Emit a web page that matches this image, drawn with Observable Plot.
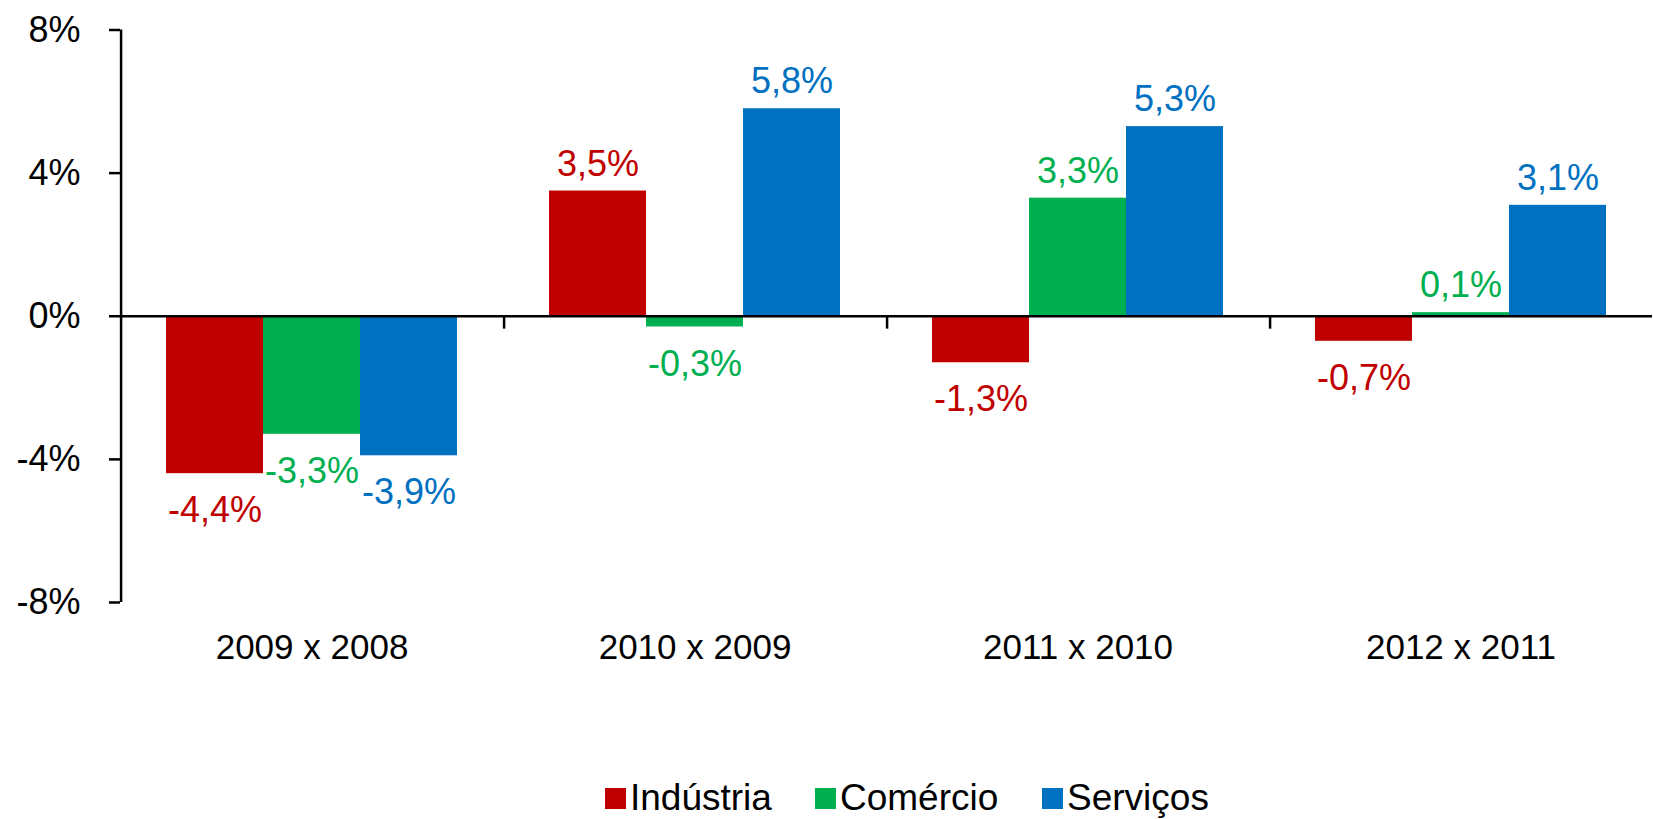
<!DOCTYPE html>
<html>
<head>
<meta charset="utf-8">
<script src="https://cdn.jsdelivr.net/npm/d3@7"></script>
<script src="https://cdn.jsdelivr.net/npm/@observablehq/plot@0.6"></script>
<style>
  body { margin: 0; background: #fff; font-family: "Liberation Sans", Arial, sans-serif; }
  #chart svg { display: block; }
  #legend { position: relative; height: 119px; width: 1653px; }
  .item { position: absolute; top: 79px; display: flex; align-items: center; height: 38px; font-size: 37px; color: #000; }
  .sw { width: 21px; height: 21px; margin-right: 4px; }
</style>
</head>
<body>
<div id="chart"></div>
<div id="legend"></div>
<script>
const categories = ["2009 x 2008", "2010 x 2009", "2011 x 2010", "2012 x 2011"];
const series = ["Indústria", "Comércio", "Serviços"];
const industria = [-4.4, 3.5, -1.3, -0.7];
const comercio = [-3.3, -0.3, 3.3, 0.1];
const servicos = [-3.9, 5.8, 5.3, 3.1];
const colors = ["#C00000", "#00B050", "#0070C0"];
const yTicks = [-8, -4, 0, 4, 8];

const seriesValues = [industria, comercio, servicos];
const data = [];
categories.forEach((c, i) => {
  seriesValues.forEach((arr, j) => data.push({category: c, series: series[j], value: arr[i]}));
});

const W = 1653, H = 700, ML = 119, MR = 0, MT = 29.5, MB = 98;
const xPadOuter = 0.46;
const step = (W - ML - MR) / categories.length / (series.length + 2 * xPadOuter);
const fmt = v => v.toFixed(1).replace(".", ",") + "%";

const edgeTicks = categories.map((c, i) => ({category: c, series: series[0], first: i === 0}));

const chart = Plot.plot({
  width: W, height: H,
  marginLeft: ML, marginRight: MR, marginTop: MT, marginBottom: MB,
  style: {fontFamily: "'Liberation Sans', Arial, sans-serif", fontSize: "36px", background: "#fff", color: "#000"},
  fx: {domain: categories, padding: 0, label: null},
  x: {domain: series, paddingInner: 0, paddingOuter: xPadOuter, axis: null},
  y: {domain: [-8, 8], axis: null},
  color: {domain: series, range: colors},
  marks: [
    Plot.barY(data, {fx: "category", x: "series", y: "value", fill: "series"}),
    Plot.ruleY([0], {stroke: "#000", strokeWidth: 2.5}),
    Plot.ruleX(edgeTicks, {fx: "category", x: "series", y1: d => d.first ? -8 : 0, y2: d => d.first ? 8 : -0.36, dx: -step * (xPadOuter + 0.5), stroke: "#000", strokeWidth: 2.5}),
    Plot.axisY(yTicks, {tickSize: 11, tickPadding: 29, tickFormat: d => d + "%", fontSize: 36, strokeWidth: 2.5, label: null}),
    Plot.axisFx({anchor: "bottom", tickSize: 0, tickPadding: 32, fontSize: 35, label: null}),
    Plot.text(data.filter(d => d.value >= 0), {fx: "category", x: "series", y: "value", text: d => fmt(d.value), fill: "series", dy: -27, fontSize: 36}),
    Plot.text(data.filter(d => d.value < 0), {fx: "category", x: "series", y: "value", text: d => fmt(d.value), fill: "series", dy: 37, fontSize: 36})
  ]
});
document.getElementById("chart").appendChild(chart);

const legendLeft = [605, 815, 1042];
const legend = document.getElementById("legend");
series.forEach((s, i) => {
  const item = document.createElement("div");
  item.className = "item";
  item.style.left = legendLeft[i] + "px";
  const sw = document.createElement("div");
  sw.className = "sw";
  sw.style.background = colors[i];
  const label = document.createElement("span");
  label.textContent = s;
  item.appendChild(sw);
  item.appendChild(label);
  legend.appendChild(item);
});
</script>
</body>
</html>
